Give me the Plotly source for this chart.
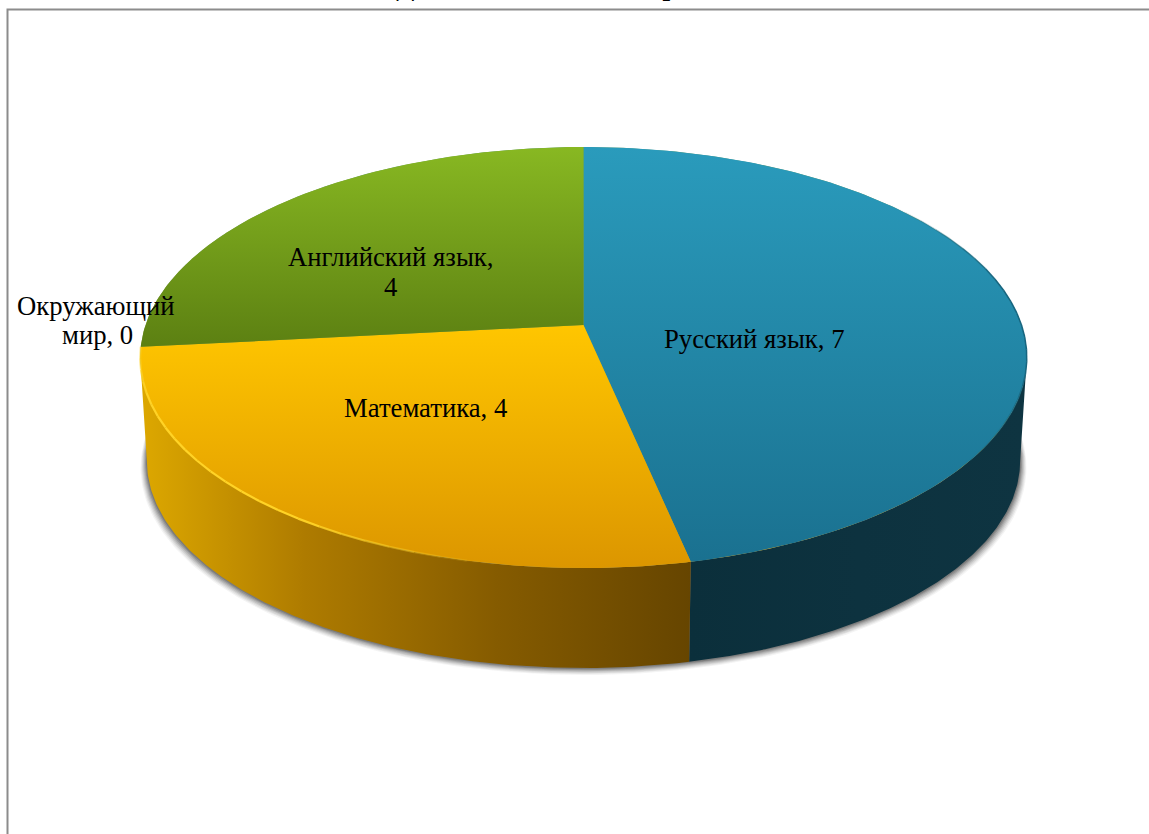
import numpy as np
import plotly.graph_objects as go

categories = ["Русский язык", "Математика", "Английский язык", "Окружающий мир"]
values = [7, 4, 4, 0]
title_text = "Доля двоек, по всем предметам"

top_colors = [["#2A9BBC", "#1A7190"], ["#FFC600", "#DC9600"], ["#88B822", "#5C8012"], ["#8064A2", "#8064A2"]]
underlay_colors = ["#5A9A70", "#C8A020"]
side_colors = [
    [[0, "#0B2F3B"], [0.5, "#0D323F"], [1, "#0E3441"]],
    [[0, "#DDA800"], [0.3, "#AE7B00"], [0.65, "#855B00"], [1, "#664500"]],
    [[0, "#3F5A0C"], [1, "#3F5A0C"]],
    [[0, "#444444"], [1, "#444444"]],
]
rim_rgb = ["23,101,127", "255,211,38"]
rim_from_deg = [50, 190]
rim_to_deg = [130, 264]
rim_widths = [1.5, 2.2]

label_lines = ["Русский язык, 7", "Математика, 4", "Английский язык,", "4", "Окружающий", "мир, 0"]
label_x = [754, 425, 390, 390, 96, 97]
label_y = [339, 408, 257, 287, 306, 335]

# Projection of the tilted disc onto the page
CX, CY, A, B, K = 583.5, 325, 438, 205.5, 0.1544
BASE_SCALE, BASE_CY = 0.985, 428.6


def top_xy(theta):
    u, v = np.sin(theta), np.cos(theta)
    d = 1 + K * v
    return CX + A * u / d, CY - B * v / d


def base_xy(theta):
    u, v = np.sin(theta), np.cos(theta)
    d = 1 + K * v
    return CX + BASE_SCALE * A * u / d, BASE_CY - BASE_SCALE * B * v / d


def arc(a0, a1, n=160):
    return np.linspace(a0, a1, n)


fig = go.Figure()

# soft shadow under the base
all_t = arc(0, 2 * np.pi, 360)
for off, alpha in [(7, 0.05), (6, 0.07), (5, 0.09), (4, 0.11), (3, 0.14), (2, 0.18), (1, 0.22)]:
    bx, by = base_xy(all_t)
    fig.add_trace(go.Scatter(
        x=bx + (bx - CX) / A * off * 0.9, y=by + off, mode="lines", fill="toself",
        fillcolor=f"rgba(40,40,40,{alpha})", line=dict(width=0), hoverinfo="skip", showlegend=False))

total = sum(values)
edges = np.concatenate([[0], np.cumsum(values) / total * 2 * np.pi])
tangent = np.arccos(-K)  # right silhouette angle
left_tangent = 2 * np.pi - tangent

# side walls (only the part that faces the viewer)
for i, _ in enumerate(categories):
    a0, a1 = max(edges[i], tangent), min(edges[i + 1], left_tangent)
    if a1 <= a0:
        continue
    t = arc(a0, a1)
    tx, ty = top_xy(t)
    bx, by = base_xy(t[::-1])
    xs = np.concatenate([tx, bx, tx[:1]])
    ys = np.concatenate([ty, by, ty[:1]])
    fig.add_trace(go.Scatter(
        x=xs, y=ys, mode="lines", fill="toself", line=dict(width=0),
        fillgradient=dict(type="horizontal", colorscale=side_colors[i]),
        hoverinfo="skip", showlegend=False))

# underlay hides the anti-aliased seams between the top faces
ux, uy = top_xy(all_t)
fig.add_trace(go.Scatter(
    x=ux, y=uy, mode="lines", fill="toself", line=dict(width=0),
    fillgradient=dict(type="vertical", colorscale=[[0, underlay_colors[1]], [1, underlay_colors[0]]]),
    hoverinfo="skip", showlegend=False))

# top faces
for i, cat in enumerate(categories):
    if values[i] == 0:
        continue
    t = arc(edges[i], edges[i + 1])
    tx, ty = top_xy(t)
    xs = np.concatenate([[CX], tx, [CX]])
    ys = np.concatenate([[CY], ty, [CY]])
    fig.add_trace(go.Scatter(
        x=xs, y=ys, mode="lines", fill="toself", line=dict(width=0),
        fillgradient=dict(type="vertical", colorscale=[[0, top_colors[i][1]], [1, top_colors[i][0]]]),
        name=cat, hoverinfo="skip", showlegend=False))

# bevel highlights along the rim, fading out toward both ends
for rgb, d0, d1, w in zip(rim_rgb, rim_from_deg, rim_to_deg, rim_widths):
    steps = np.linspace(d0, d1, 25)
    for s0, s1 in zip(steps[:-1], steps[1:]):
        frac = ((s0 + s1) / 2 - d0) / (d1 - d0)
        alpha = min(1.0, 3 * min(frac, 1 - frac) + (0.4 if d1 > 200 and frac > 0.5 else 0))
        tx, ty = top_xy(np.radians(arc(s0, s1, 8)))
        fig.add_trace(go.Scatter(x=tx, y=ty, mode="lines",
                                 line=dict(width=w, color=f"rgba({rgb},{alpha:.2f})"),
                                 hoverinfo="skip", showlegend=False))

annotations = [
    dict(x=x, y=y, text=txt, showarrow=False, xref="x", yref="y", xanchor="center", yanchor="middle",
         align="center", font=dict(family="Liberation Serif", size=26.7, color="#000000"))
    for x, y, txt in zip(label_x, label_y, label_lines)
]
annotations.append(dict(
    x=393.5, y=3, text=f"<b>{title_text}</b>", showarrow=False, xref="x", yref="y",
    xanchor="left", yanchor="bottom", font=dict(family="Liberation Serif", size=27, color="#000000")))

fig.update_layout(
    width=1149, height=834, autosize=False,
    margin=dict(l=0, r=0, t=0, b=0),
    paper_bgcolor="#FFFFFF", plot_bgcolor="#FFFFFF", showlegend=False, hovermode=False,
    xaxis=dict(range=[0, 1149], visible=False, fixedrange=True),
    yaxis=dict(range=[834, 0], visible=False, fixedrange=True),
    annotations=annotations,
    shapes=[dict(type="rect", xref="x", yref="y", x0=7.5, y0=9.5, x1=1300, y1=1000,
                 line=dict(color="#8C8C8C", width=2), layer="below")],
)
fig.write_html(
    "out.html", config=dict(displayModeBar=False),
    post_script="document.body.style.margin='0';document.body.style.overflow='hidden';",
)
